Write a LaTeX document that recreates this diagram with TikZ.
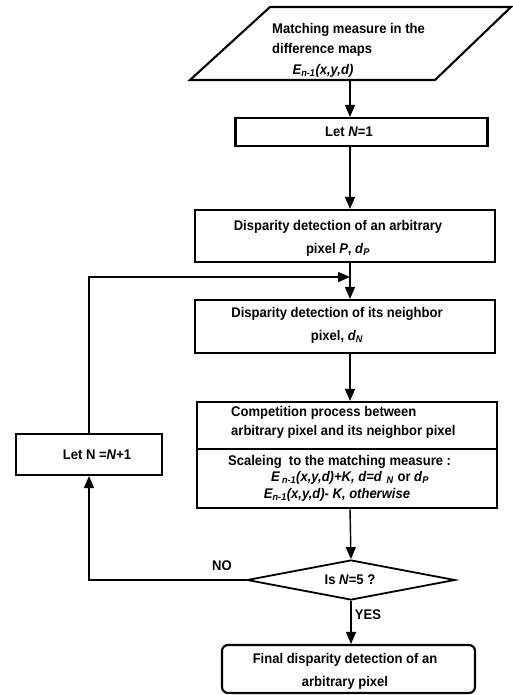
\documentclass[tikz,border=0pt]{standalone}
\usepackage{fontspec}
\setmainfont{Liberation Sans}[FakeStretch=0.93]
\usetikzlibrary{arrows.meta,shapes.geometric}
\newcommand{\Enm}{\textit{E\textsubscript{n-1}(x,y,d)}}
\begin{document}
\begin{tikzpicture}[x=1pt,y=-1pt,
  box/.style={draw, line width=2.1pt, inner sep=0pt},
  txt/.style={font=\bfseries\fontsize{14}{23}\selectfont, align=center, inner sep=0pt},
  txtl/.style={font=\bfseries\fontsize{14}{19.5}\selectfont, align=left, inner sep=0pt},
  arr/.style={-{Triangle[length=12pt,width=10pt]}, line width=1.4pt}]
\useasboundingbox (0,0) rectangle (513,695);
% input parallelogram
\draw[box] (270,7) -- (511,7) -- (435,80) -- (190,80) -- cycle;
\coordinate (inb) at (350,80);
\node[txtl, anchor=west] (in1) at (272,30) {Matching measure in the};
\node[txtl, anchor=west] (in2) at (272,50) {difference maps};
\node[txt] (in3) at (323,71) {\Enm};
% boxes
\node[box, minimum width=252, minimum height=28] (let1) at (361.5,132) {};
\node[txt] (let1t) at (349,132) {Let \textit{N}=1};
\node[box, minimum width=300, minimum height=52] (d1) at (345,236) {};
\node[txt] (d1t) at (338,238) {Disparity detection of an arbitrary\\pixel \textit{P}, \textit{d}\textsubscript{\textit{P}}};
\node[box, minimum width=300, minimum height=53] (d2) at (345,326.5) {};
\node[txt] (d2t) at (337,325) {Disparity detection of its neighbor\\pixel, \textit{d}\textsubscript{\textit{N}}};
\node[box, minimum width=300, minimum height=106] (b3) at (347,455) {};
\draw[line width=1.4pt] (b3.west |- 0,449) -- (b3.east |- 0,449);
\node[txtl, anchor=west] (b3a) at (231,422.5) {Competition process between\\arbitrary pixel and its neighbor pixel};
\node[txtl, anchor=west] (b3b) at (228,462) {Scaleing\ \ to the matching measure :};
\node[txt] (b3c) at (350,478) {\textit{E\,\textsubscript{n-1}(x,y,d)+K, d=d}\,\,\textsubscript{\textit{N}} or \textit{d}\textsubscript{\textit{P}}};
\node[txt] (b3d) at (337,495) {\Enm- \textit{K, otherwise}};
\node[box, minimum width=146, minimum height=41] (let2) at (89,454.5) {};
\node[txt] (let2t) at (97,455) {Let N =\textit{N}+1};
\node[draw, line width=1.8pt, diamond, minimum width=208, minimum height=40, inner sep=0pt, aspect=5.2] (dec) at (351,580) {};
\node[txt] (dect) at (350,580) {Is \textit{N}=5 ?};
\node[box, rounded corners=6pt, minimum width=253, minimum height=48] (fin) at (348.5,669) {};
\node[txt] (fint) at (345,671) {Final disparity detection of an\\arbitrary pixel};
% connectors
\coordinate (fb) at (350,277);
\draw[arr] (inb) -- (inb |- let1.north);
\draw[arr] (inb |- let1.south) -- (inb |- d1.north);
\draw[arr] (inb |- d1.south) -- (inb |- d2.north);
\draw[arr] (inb |- d2.south) -- (inb |- b3.north);
\draw[arr] (inb |- b3.south) -- (dec.north);
\draw[arr] (dec.south) -- (dec.south |- fin.north);
\draw[arr] (let2.north) -- (let2.north |- fb) -- (fb);
\draw[arr] (dec.west) -- (dec.west -| let2.south) -- (let2.south);
\node[txt] (no) at (222,566) {NO};
\node[txt] (yes) at (368,615) {YES};
\end{tikzpicture}
\end{document}
